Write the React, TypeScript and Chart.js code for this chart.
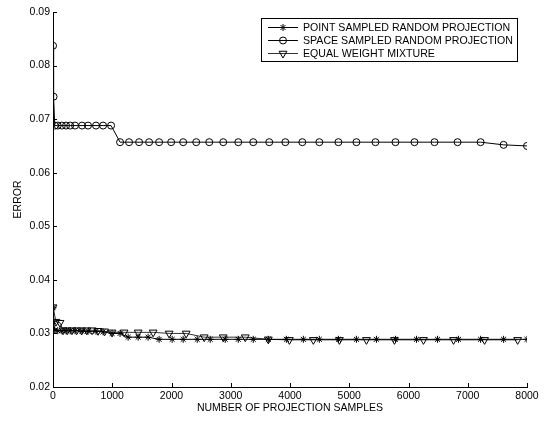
import React, { useEffect, useRef } from "react";
import { Chart, registerables } from "chart.js";
import { drawPoint } from "chart.js/helpers";

Chart.register(...registerables);

const seriesLabels = [
  "POINT SAMPLED RANDOM PROJECTION",
  "SPACE SAMPLED RANDOM PROJECTION",
  "EQUAL WEIGHT MIXTURE",
];

const pointX = [1, 10, 30, 80, 150, 220, 290, 372, 490, 591, 726, 845, 997, 1132, 1268, 1437, 1605, 1791, 2011, 2197, 2434, 2653, 2907, 3127, 3380, 3634, 3938, 4225, 4495, 4817, 5121, 5459, 5780, 6135, 6490, 6845, 7217, 7605, 8000];
const pointY = [0.0348, 0.0322, 0.0306, 0.0305, 0.0305, 0.0305, 0.0305, 0.0305, 0.0304, 0.0304, 0.0304, 0.0303, 0.0300, 0.0300, 0.0293, 0.0293, 0.0293, 0.0289, 0.0289, 0.0289, 0.0289, 0.0289, 0.0289, 0.0289, 0.0289, 0.0289, 0.0289, 0.0289, 0.0289, 0.0289, 0.0289, 0.0289, 0.0289, 0.0289, 0.0289, 0.0289, 0.0289, 0.0289, 0.0289];

const spaceX = [1, 10, 30, 80, 150, 220, 290, 372, 490, 591, 726, 845, 980, 1132, 1284, 1453, 1622, 1791, 1994, 2197, 2417, 2637, 2873, 3127, 3380, 3650, 3921, 4208, 4495, 4817, 5121, 5442, 5780, 6101, 6439, 6828, 7217, 7605, 8000];
const spaceY = [0.0837, 0.0742, 0.0688, 0.0688, 0.0688, 0.0688, 0.0688, 0.0688, 0.0688, 0.0688, 0.0688, 0.0688, 0.0688, 0.0657, 0.0657, 0.0657, 0.0657, 0.0657, 0.0657, 0.0657, 0.0657, 0.0657, 0.0657, 0.0657, 0.0657, 0.0657, 0.0657, 0.0657, 0.0657, 0.0657, 0.0657, 0.0657, 0.0657, 0.0657, 0.0657, 0.0657, 0.0657, 0.0652, 0.0650];

const mixX = [1, 50, 118, 170, 240, 320, 400, 480, 570, 660, 760, 870, 997, 1200, 1437, 1690, 1960, 2248, 2552, 2873, 3245, 3634, 3990, 4394, 4834, 5290, 5763, 6253, 6760, 7284, 7842];
const mixY = [0.0349, 0.0322, 0.0320, 0.0306, 0.0306, 0.0306, 0.0306, 0.0306, 0.0306, 0.0306, 0.0305, 0.0304, 0.0302, 0.0302, 0.0302, 0.0302, 0.0300, 0.0300, 0.0293, 0.0293, 0.0293, 0.0289, 0.0288, 0.0288, 0.0288, 0.0288, 0.0288, 0.0288, 0.0288, 0.0288, 0.0288];

const xTicks = [0, 1000, 2000, 3000, 4000, 5000, 6000, 7000, 8000];
const yTicks = [0.02, 0.03, 0.04, 0.05, 0.06, 0.07, 0.08, 0.09];

const FONT = "'Liberation Sans', Arial, sans-serif";

const toPts = (xs: number[], ys: number[]) => xs.map((x, i) => ({ x, y: ys[i] }));

const innerTicks = {
  id: "innerTicks",
  afterDraw(chart: any) {
    const { ctx, chartArea, scales } = chart;
    ctx.save();
    ctx.strokeStyle = "#000";
    ctx.lineWidth = 1;
    ctx.beginPath();
    yTicks.forEach((v) => {
      const p = Math.round(scales.y.getPixelForValue(v)) + 0.5;
      ctx.moveTo(chartArea.left, p);
      ctx.lineTo(chartArea.left + 4, p);
    });
    xTicks.forEach((v) => {
      const p = Math.round(scales.x.getPixelForValue(v)) + 0.5;
      ctx.moveTo(p, chartArea.bottom);
      ctx.lineTo(p, chartArea.bottom - 4);
    });
    ctx.stroke();
    ctx.restore();
  },
};

const boxLegend = {
  id: "boxLegend",
  afterDraw(chart: any) {
    const { ctx } = chart;
    const left = 261, top = 18, width = 256, height = 43;
    ctx.save();
    ctx.fillStyle = "#fff";
    ctx.fillRect(left, top, width, height);
    ctx.strokeStyle = "#000";
    ctx.lineWidth = 1;
    ctx.strokeRect(left + 0.5, top + 0.5, width, height);
    chart.data.datasets.forEach((ds: any, i: number) => {
      const y = top + 9.5 + i * 13;
      ctx.strokeStyle = ds.borderColor;
      ctx.lineWidth = 1;
      ctx.beginPath();
      ctx.moveTo(268, y);
      ctx.lineTo(298, y);
      ctx.stroke();
      ctx.strokeStyle = "#000";
      ctx.fillStyle = "rgba(0,0,0,0)";
      drawPoint(ctx, { pointStyle: ds.pointStyle, radius: ds.pointRadius, rotation: ds.rotation || 0, borderWidth: 1 }, 283, y);
      ctx.fillStyle = "#000";
      ctx.font = `10.6px ${FONT}`;
      ctx.textBaseline = "middle";
      ctx.textAlign = "left";
      ctx.fillText(ds.label, 303, y + 0.5);
    });
    ctx.restore();
  },
};

export default function App() {
  const ref = useRef<HTMLCanvasElement | null>(null);
  useEffect(() => {
    if (!ref.current) return;
    const common = {
      showLine: true,
      borderColor: "#000",
      borderWidth: 1,
      pointBorderColor: "#000",
      pointBackgroundColor: "rgba(0,0,0,0)",
      pointBorderWidth: 1,
    };
    const chart = new Chart(ref.current, {
      type: "scatter",
      data: {
        datasets: [
          { ...common, label: seriesLabels[0], data: toPts(pointX, pointY), pointStyle: "star", pointRadius: 3.5 },
          { ...common, label: seriesLabels[1], data: toPts(spaceX, spaceY), pointStyle: "circle", pointRadius: 3.5 },
          { ...common, label: seriesLabels[2], data: toPts(mixX, mixY), pointStyle: "triangle", pointRadius: 4.5, rotation: 180, borderColor: "#333" } as any,
        ],
      },
      options: {
        animation: false,
        responsive: false,
        events: [],
        layout: { padding: { top: 12, right: 19, left: 0, bottom: 0 } },
        plugins: { legend: { display: false }, tooltip: { enabled: false } },
        scales: {
          x: {
            type: "linear",
            min: 0,
            max: 8000,
            afterFit: (s: any) => { s.height = 34; },
            afterBuildTicks: (s: any) => { s.ticks = xTicks.map((v) => ({ value: v })); },
            grid: { display: false, drawTicks: false },
            border: { display: true, color: "#000", width: 1 },
            ticks: { color: "#000", padding: 3, maxRotation: 0, font: { family: FONT, size: 10.5 }, callback: (v: any) => String(v) },
            title: { display: true, text: "NUMBER OF PROJECTION SAMPLES", color: "#000", font: { family: FONT, size: 10.5 }, padding: { top: 0, bottom: 7 } },
          },
          y: {
            type: "linear",
            min: 0.02,
            max: 0.09,
            afterFit: (s: any) => { s.width = 53; },
            afterBuildTicks: (s: any) => { s.ticks = yTicks.map((v) => ({ value: v })); },
            grid: { display: false, drawTicks: false },
            border: { display: true, color: "#000", width: 1 },
            ticks: { color: "#000", padding: 3, font: { family: FONT, size: 10.5 }, callback: (v: any) => Number(v).toFixed(2) },
            title: { display: true, text: "ERROR", color: "#000", font: { family: FONT, size: 10.5 }, padding: { top: 12, bottom: 0 } },
          },
        },
      },
      plugins: [innerTicks, boxLegend],
    } as any);
    return () => chart.destroy();
  }, []);
  return (
    <div style={{ position: "fixed", left: 0, top: 0, width: 546, height: 421, background: "#fff" }}>
      <canvas ref={ref} width={546} height={421} style={{ display: "block", width: 546, height: 421 }} />
    </div>
  );
}
